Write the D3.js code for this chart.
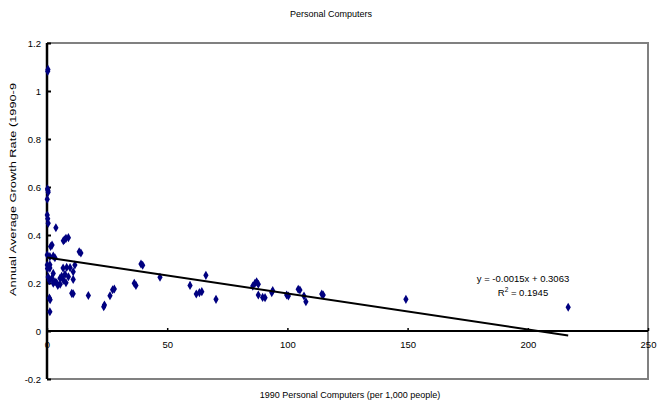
<!DOCTYPE html>
<meta charset="utf-8">
<style>
body { margin: 0; background: #fff; }
text { font-family: "Liberation Sans", Arial, sans-serif; fill: #000; }
.tick text { font-size: 9.5px; }
</style>
<body>
<script src="https://cdn.jsdelivr.net/npm/d3@7"></script>
<script>

// 1990 PCs per 1,000 people
var pcs = [0.4, 0.3, 0.2, 0.4, 0.5, 0.1, 0.1, 0.3, 0.5, 3.7,
  1.5, 2.1, 6.8, 7.3, 7.9, 8.9, 13.4, 14.1, 0.1, 1.2,
  2.6, 3.3, 39.1, 39.8, 0.1, 1.2, 1.2, 0.2, 6.7, 8.2,
  9.6, 11.6, 2.6, 7.5, 10.9, 2.0, 5.4, 8.9, 6.1, 3.3,
  6.8, 10.9, 2.6, 4.0, 7.9, 0.5, 1.0, 4.5, 5.5, 10.9,
  10.3, 17.2, 1.0, 1.3, 1.2, 23.6, 23.9, 26.2, 27.3, 28.0,
  36.3, 37.0, 47.0, 59.5, 62.1, 63.4, 64.4, 66.1, 70.3, 85.6,
  86.5, 87.2, 87.9, 87.9, 89.7, 90.7, 93.5, 93.9, 99.7, 100.4,
  104.5, 105.2, 106.9, 107.7, 114.3, 114.9, 149.3, 216.8];

// annual average growth rate
var growth = [1.09, 1.082, 0.592, 0.585, 0.578, 0.549, 0.483, 0.468, 0.449, 0.43,
  0.352, 0.358, 0.376, 0.38, 0.386, 0.389, 0.33, 0.325, 0.317, 0.31,
  0.312, 0.305, 0.279, 0.274, 0.275, 0.276, 0.262, 0.26, 0.262, 0.265,
  0.264, 0.275, 0.24, 0.236, 0.247, 0.22, 0.22, 0.226, 0.228, 0.205,
  0.212, 0.215, 0.199, 0.201, 0.201, 0.225, 0.21, 0.19, 0.195, 0.155,
  0.157, 0.148, 0.137, 0.13, 0.08, 0.101, 0.108, 0.147, 0.172, 0.175,
  0.199, 0.19, 0.224, 0.19, 0.154, 0.16, 0.164, 0.232, 0.132, 0.187,
  0.199, 0.205, 0.195, 0.15, 0.14, 0.139, 0.16, 0.168, 0.15, 0.146,
  0.174, 0.171, 0.146, 0.122, 0.154, 0.15, 0.132, 0.099];

var xTicks = [0, 50, 100, 150, 200, 250];
var yTicks = [-0.2, 0, 0.2, 0.4, 0.6, 0.8, 1, 1.2];

// trendline y = slope*x + intercept
var slope = -0.0015, intercept = 0.3063, r2 = 0.1945;

var width = 662, height = 405;

var svg = d3.select("body").append("svg")
    .attr("width", width)
    .attr("height", height);

var x = d3.scaleLinear().domain([0, 250]).range([47, 648]);
var y = d3.scaleLinear().domain([-0.2, 1.2]).range([379, 43]);

// plot frame
svg.append("path")
    .attr("d", "M" + x(0) + "," + y(1.2) + "H" + x(250) + "V" + y(-0.2) + "H" + x(0))
    .attr("fill", "none")
    .attr("stroke", "#808080")
    .attr("stroke-width", 2);

// y axis
var yAxis = svg.append("g")
    .attr("transform", "translate(" + x(0) + ",0)")
    .call(d3.axisLeft(y).tickValues(yTicks)
      .tickSizeInner(-4).tickSizeOuter(0).tickPadding(6)
      .tickFormat(function(d) { return String(+d.toFixed(1)); }));
yAxis.select(".domain").remove();
yAxis.selectAll(".tick line").attr("stroke-width", 2);
svg.append("line")
    .attr("x1", x(0)).attr("x2", x(0))
    .attr("y1", y(1.2)).attr("y2", y(-0.2))
    .attr("stroke", "#000").attr("stroke-width", 2.5);

// x axis on y = 0
var xAxis = svg.append("g")
    .attr("transform", "translate(0," + y(0) + ")")
    .call(d3.axisBottom(x).tickValues(xTicks)
      .tickSizeInner(-3).tickSizeOuter(0).tickPadding(10)
      .tickFormat(d3.format("d")));
xAxis.select(".domain").remove();
xAxis.selectAll(".tick line").attr("stroke-width", 1.5);
svg.append("line")
    .attr("x1", x(0)).attr("x2", x(250))
    .attr("y1", y(0)).attr("y2", y(0))
    .attr("stroke", "#000").attr("stroke-width", 2);

// points
svg.selectAll(".pt")
    .data(d3.range(pcs.length))
    .enter().append("path")
    .attr("class", "pt")
    .attr("transform", function(i) { return "translate(" + x(pcs[i]) + "," + y(growth[i]) + ")"; })
    .attr("d", d3.symbol().type(d3.symbolDiamond).size(24))
    .attr("fill", "#000080");

// trendline
var xMax = d3.max(pcs);
svg.append("line")
    .attr("x1", x(0)).attr("y1", y(intercept))
    .attr("x2", x(xMax)).attr("y2", y(slope * xMax + intercept))
    .attr("stroke", "#000").attr("stroke-width", 2);

// equation
svg.append("text")
    .attr("x", 523).attr("y", 282)
    .attr("text-anchor", "middle")
    .style("font-size", "9.5px")
    .text("y = -0.0015x + 0.3063");
var rt = svg.append("text")
    .attr("x", 523).attr("y", 296)
    .attr("text-anchor", "middle")
    .style("font-size", "9.5px");
rt.append("tspan").text("R");
rt.append("tspan").attr("dy", -4).style("font-size", "6.5px").text("2");
rt.append("tspan").attr("dy", 4).text(" = " + r2);

// titles
svg.append("text")
    .attr("x", 331).attr("y", 17)
    .attr("text-anchor", "middle")
    .style("font-size", "9px")
    .text("Personal Computers");

svg.append("text")
    .attr("x", 350).attr("y", 398)
    .attr("text-anchor", "middle")
    .style("font-size", "9px")
    .text("1990 Personal Computers (per 1,000 people)");

// y title is stretched along its length in the original
svg.append("text")
    .attr("transform", "translate(16,296) rotate(-90)")
    .attr("text-anchor", "start")
    .attr("textLength", 213)
    .attr("lengthAdjust", "spacingAndGlyphs")
    .style("font-size", "9px")
    .text("Annual Average Growth Rate (1990-9");

</script>
</body>
